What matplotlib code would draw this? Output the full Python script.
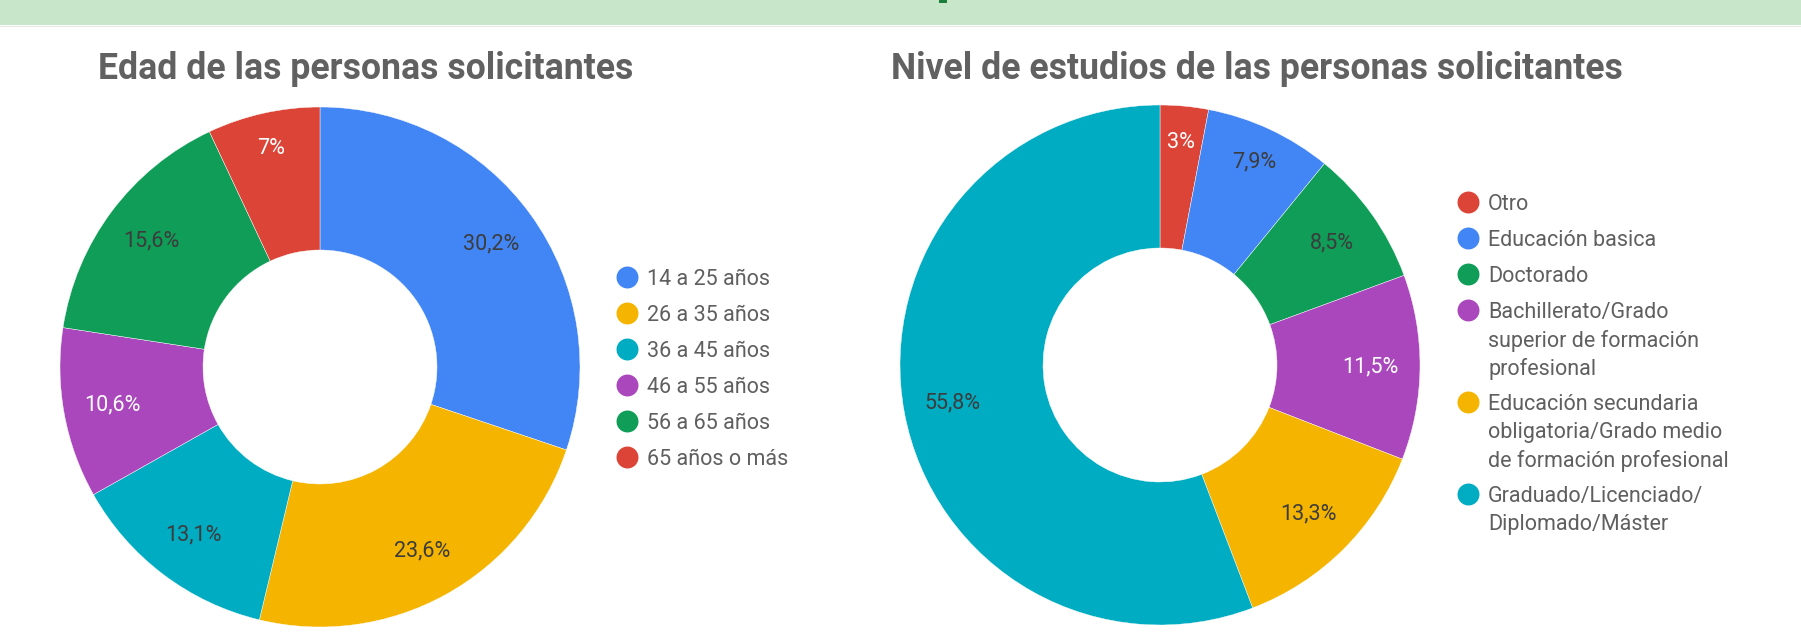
import matplotlib
matplotlib.use('Agg')
from matplotlib import pyplot as plt
from matplotlib.patches import Rectangle
import numpy as np

plt.rcParams['font.family'] = ['Roboto', 'DejaVu Sans']

W, H = 1801, 641

# --- data ---
edad_title = 'Edad de las personas solicitantes'
edad_labels = ['14 a 25 años', '26 a 35 años', '36 a 45 años',
               '46 a 55 años', '56 a 65 años', '65 años o más']
edad_values = [30.2, 23.6, 13.1, 10.6, 15.6, 7.0]
edad_colors = ['#4285F4', '#F4B400', '#00ACC1', '#AB47BC', '#0F9D58', '#DB4437']
edad_txt = ['#3c3c3c', '#3c3c3c', '#3c3c3c', 'white', '#3c3c3c', 'white']

est_title = 'Nivel de estudios de las personas solicitantes'
est_labels = ['Otro', 'Educación basica', 'Doctorado',
              'Bachillerato/Grado\nsuperior de formación\nprofesional',
              'Educación secundaria\nobligatoria/Grado medio\nde formación profesional',
              'Graduado/Licenciado/\nDiplomado/Máster']
est_values = [3.0, 7.9, 8.5, 11.5, 13.3, 55.8]
est_colors = ['#DB4437', '#4285F4', '#0F9D58', '#AB47BC', '#F4B400', '#00ACC1']
est_txt = ['white', '#3c3c3c', '#3c3c3c', 'white', '#3c3c3c', '#3c3c3c']

TITLE_C = '#616161'
LEG_C = '#5f5f5f'
FS = 15.5


def fmt(v):
    s = f'{v:.1f}'
    if s.endswith('.0'):
        s = s[:-2]
    return s.replace('.', ',') + '%'


def donut(fig, cx, cy, r, values, colors, txtcols):
    ax = fig.add_axes([(cx - r) / W, 1 - (cy + r) / H, 2 * r / W, 2 * r / H])
    wedges, _ = ax.pie(values, colors=colors, startangle=90, counterclock=False,
                       radius=1, wedgeprops=dict(width=0.55, edgecolor='white', linewidth=0.3))
    for w, v, tc in zip(wedges, values, txtcols):
        ang = np.deg2rad((w.theta1 + w.theta2) / 2)
        rr = 0.86 if v < 8 else 0.81
        ax.text(rr * np.cos(ang), rr * np.sin(ang), fmt(v), ha='center', va='center',
                fontsize=FS, color=tc)
    ax.set_xlim(-1, 1)
    ax.set_ylim(-1, 1)
    ax.axis('off')
    return ax


def legend(ax0, x, cy, labels, colors):
    step, lh = 36, 28
    nl = [len(l.split('\n')) for l in labels]
    span = step * (len(labels) - 1) + lh * sum(n - 1 for n in nl)
    y = cy - span / 2
    for lab, c in zip(labels, colors):
        ax0.plot(x, y, 'o', ms=15.8, color=c, mec='none')
        for i, line in enumerate(lab.split('\n')):
            ax0.text(x + 20, y + i * lh, line, ha='left', va='center_baseline',
                     fontsize=FS, color=LEG_C)
        y += step + lh * (len(lab.split('\n')) - 1)


fig = plt.figure(figsize=(W / 100, H / 100), dpi=100)

# overlay in pixel coordinates for banner, titles and legends
ax0 = fig.add_axes([0, 0, 1, 1])
ax0.set_xlim(0, W)
ax0.set_ylim(H, 0)
ax0.axis('off')
ax0.add_patch(Rectangle((0, 0), W, 25, color='#c8e6c9', lw=0))
ax0.add_patch(Rectangle((0, 25.5), W, 1.5, color='#e3ece3', lw=0))
ax0.add_patch(Rectangle((939, 0), 8, 3, color='#1b7f3b', lw=0))

ax0.text(366, 65, edad_title, ha='center', va='center_baseline', fontsize=25.7,
         fontweight='bold', color=TITLE_C)
ax0.text(1257, 65, est_title, ha='center', va='center_baseline', fontsize=25.7,
         fontweight='bold', color=TITLE_C)

donut(fig, 320, 367, 260, edad_values, edad_colors, edad_txt)
donut(fig, 1160, 365, 260, est_values, est_colors, est_txt)

legend(ax0, 627, 367, edad_labels, edad_colors)
legend(ax0, 1468, 362, est_labels, est_colors)

fig.savefig('out.png', dpi=100)
